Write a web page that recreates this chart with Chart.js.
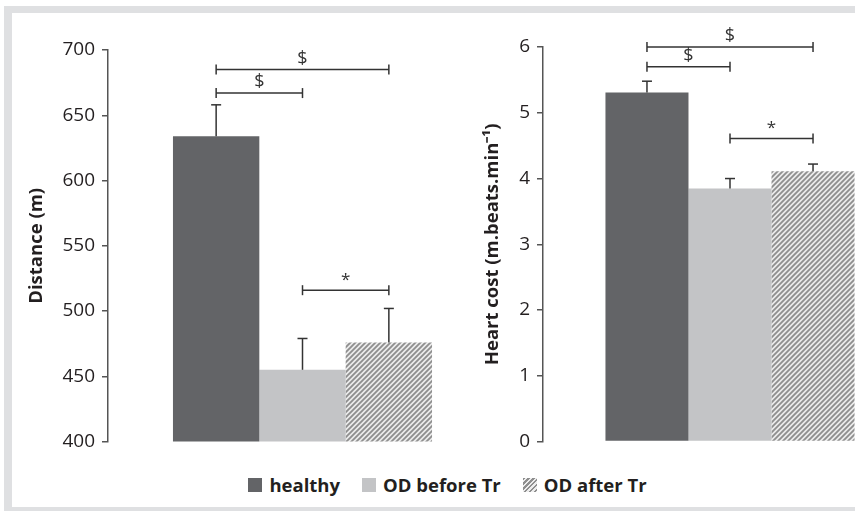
<!DOCTYPE html>
<html>
<head>
<meta charset="utf-8">
<script src="https://cdn.jsdelivr.net/npm/chart.js@4.4.1/dist/chart.umd.min.js"></script>
<style>
    html, body { margin: 0; padding: 0; width: 855px; height: 511px; overflow: hidden; background: #fff; }
    .frame { position: absolute; left: 4px; top: 6px; width: 900px; height: 494px; border: 8px solid #dfe0e2; border-top-width: 7px; background: #fff; }
    canvas { position: absolute; }
    #distanceChart { left: 14px; top: 14px; }
    #heartChart { left: 440px; top: 14px; }
    .legend { position: absolute; left: 0; width: 895px; top: 472px; display: flex; justify-content: center; font: bold 18.5px "Open Sans", sans-serif; color: #231f20; }
    .legend span { display: inline-flex; align-items: center; margin: 0 11px; }
    .legend i { display: inline-block; width: 14px; height: 14px; margin-right: 7px; }
</style>
</head>
<body>
<div class="frame"></div>
<canvas id="distanceChart" width="483" height="446"></canvas>
<canvas id="heartChart" width="477" height="446"></canvas>
<div class="legend" id="legend"></div>
<script>
(function() {
    'use strict';

    // Data
    const groups = ['healthy', 'OD before Tr', 'OD after Tr'];
    const distanceMean = [634, 455, 476];
    const distanceSD = [24, 24, 26];
    const heartMean = [5.31, 3.85, 4.11];
    const heartSD = [0.17, 0.15, 0.11];
    // [from group, to group, bracket height, mark]
    const distanceBrackets = [[0, 1, 667, '$'], [0, 2, 685, '$'], [1, 2, 516, '*']];
    const heartBrackets = [[0, 1, 5.7, '$'], [0, 2, 6.0, '$'], [1, 2, 4.61, '*']];
    const distanceTicks = { min: 400, max: 700, step: 50 };
    const heartTicks = { min: 0, max: 6, step: 1 };

    const FONT = '"Open Sans", sans-serif';
    const INK = '#333';

    function hatchPattern() {
        const s = 5;
        const c = document.createElement('canvas');
        c.width = s; c.height = s;
        const g = c.getContext('2d');
        g.fillStyle = '#ececec';
        g.fillRect(0, 0, s, s);
        g.strokeStyle = '#8e8e8e';
        g.lineWidth = 1.8;
        g.beginPath();
        g.moveTo(0, s); g.lineTo(s, 0);
        g.moveTo(-1, 1); g.lineTo(1, -1);
        g.moveTo(s - 1, s + 1); g.lineTo(s + 1, s - 1);
        g.stroke();
        return g.createPattern(c, 'repeat');
    }

    const fills = ['#636467', '#c3c4c6', hatchPattern()];

    // Error bars (upper only) and significance brackets
    const annotations = {
        id: 'annotations',
        afterDatasetsDraw(chart, args, opts) {
            const ctx = chart.ctx;
            const y = chart.scales.y;
            const bars = chart.data.datasets.map((d, i) => chart.getDatasetMeta(i).data[0]);
            const line = (x1, y1, x2, y2) => { ctx.beginPath(); ctx.moveTo(x1, y1); ctx.lineTo(x2, y2); ctx.stroke(); };

            ctx.save();
            ctx.strokeStyle = INK;
            ctx.lineWidth = 1.5;
            opts.sd.forEach((sd, i) => {
                const bar = bars[i];
                const top = y.getPixelForValue(chart.data.datasets[i].data[0] + sd);
                line(bar.x, bar.y, bar.x, top);
                line(bar.x - 5, top, bar.x + 5, top);
            });

            ctx.fillStyle = INK;
            ctx.textAlign = 'center';
            ctx.textBaseline = 'bottom';
            opts.brackets.forEach(([a, b, v, mark]) => {
                const x1 = bars[a].x, x2 = bars[b].x;
                const py = y.getPixelForValue(v);
                line(x1, py, x2, py);
                line(x1, py - 5, x1, py + 5);
                line(x2, py - 5, x2, py + 5);
                ctx.font = (mark === '*' ? '17px ' : '18px ') + FONT;
                ctx.fillText(mark, (x1 + x2) / 2, py - 2);
            });
            ctx.restore();
        }
    };

    function makeChart(id, means, sds, brackets, range, title, axisWidth, titlePad, pad) {
        return new Chart(document.getElementById(id), {
            type: 'bar',
            data: {
                labels: [''],
                datasets: groups.map((g, i) => ({
                    label: g,
                    data: [means[i]],
                    backgroundColor: fills[i],
                    borderWidth: 0,
                    categoryPercentage: 0.666,
                    barPercentage: 1
                }))
            },
            options: {
                responsive: false,
                animation: false,
                layout: { padding: { top: pad[0], bottom: pad[1], left: 0, right: 0 } },
                plugins: {
                    legend: { display: false },
                    tooltip: { enabled: false },
                    annotations: { sd: sds, brackets: brackets }
                },
                scales: {
                    x: { display: false },
                    y: {
                        min: range.min,
                        max: range.max,
                        ticks: { stepSize: range.step, color: '#231f20', padding: 7, font: { family: FONT, size: 19 } },
                        grid: { drawOnChartArea: false, tickLength: 6, color: '#555', lineWidth: 1.5 },
                        border: { color: '#555', width: 1.5 },
                        title: { display: true, text: title, color: '#231f20', padding: { top: titlePad }, font: { family: FONT, size: 18.5, weight: 'bold' } },
                        afterFit(scale) { scale.width = axisWidth; }
                    }
                }
            },
            plugins: [annotations]
        });
    }

    makeChart('distanceChart', distanceMean, distanceSD, distanceBrackets, distanceTicks,
        'Distance (m)', 94, 12, [36, 4]);
    makeChart('heartChart', heartMean, heartSD, heartBrackets, heartTicks,
        'Heart cost (m.beats.min\u207B\u00B9)', 103, 42, [33, 5]);

    // Legend
    const swatches = [
        'background:#636467',
        'background:#c3c4c6',
        'background:repeating-linear-gradient(135deg,#8e8e8e 0 1.5px,#ececec 1.5px 3.5px)'
    ];
    document.getElementById('legend').innerHTML = groups
        .map((g, i) => '<span><i style="' + swatches[i] + '"></i>' + g + '</span>')
        .join('');
})();
</script>
</body>
</html>
